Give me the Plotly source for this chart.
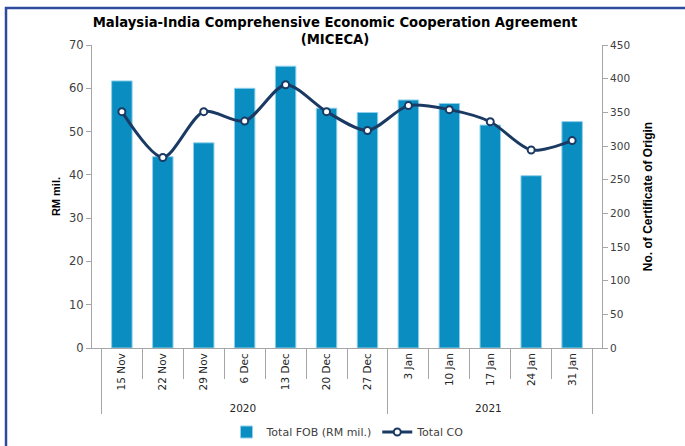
import plotly.graph_objects as go

years = ["2020"] * 7 + ["2021"] * 5
weeks = ["15 Nov", "22 Nov", "29 Nov", "6 Dec", "13 Dec", "20 Dec", "27 Dec",
         "3 Jan", "10 Jan", "17 Jan", "24 Jan", "31 Jan"]
fob = [61.7, 44.2, 47.4, 60.0, 65.1, 55.4, 54.4, 57.3, 56.5, 51.5, 39.8, 52.3]
co = [351, 283, 351, 337, 391, 351, 323, 360, 354, 336, 294, 308]

font_main = "DejaVu Sans, Lato, sans-serif"
axis_col = "#A6A6A6"

W, H = 685, 446
L, R, T, B = 92, 83, 45, 98
PW, PH = W - L - R, H - T - B

fig = go.Figure()
fig.add_trace(go.Bar(
    x=[years, weeks], y=fob, name="Total FOB (RM mil.)",
    marker=dict(color="#0A8DC0", line=dict(color="#8FD0EC", width=1)),
    width=0.5,
))
fig.add_trace(go.Scatter(
    x=[years, weeks], y=co, name="Total CO", yaxis="y2",
    mode="lines+markers",
    line=dict(color="#1B3A63", width=3, shape="spline", smoothing=0.8),
    marker=dict(color="white", size=7, line=dict(color="#1B3A63", width=2)),
))

fig.update_layout(
    width=W, height=H,
    margin=dict(l=L, r=R, t=T, b=B),
    paper_bgcolor="white", plot_bgcolor="white",
    font=dict(family=font_main, size=11, color="#404040"),
    title=dict(
        text="<b>Malaysia-India Comprehensive Economic Cooperation Agreement<br>(MICECA)</b>",
        x=335 / W, xanchor="center", xref="container", y=1 - 27 / H, yanchor="top",
        font=dict(size=13.2, color="#000000", family=font_main),
    ),
    bargap=0.5,
    showlegend=True,
    legend=dict(orientation="h", x=348 / W, xanchor="center", xref="container",
                y=1 - 432 / H, yanchor="middle", yref="container",
                font=dict(size=11, color="#404040"), itemwidth=30),
    xaxis=dict(
        type="multicategory", automargin=False,
        showline=True, linecolor=axis_col, linewidth=1,
        ticks="outside", tickson="boundaries", ticklen=30, tickcolor=axis_col,
        tickangle=-90,
        showdividers=True, dividercolor=axis_col, dividerwidth=1,
        tickfont=dict(size=10.5, color="#262626"),
    ),
    yaxis=dict(
        range=[0, 70], dtick=10, showgrid=False, automargin=False,
        showline=True, linecolor=axis_col, linewidth=1,
        ticks="outside", ticklen=5, tickcolor=axis_col,
        tickfont=dict(size=11.5, color="#404040"),
        title=dict(text="<b>RM mil.</b>", font=dict(size=11, color="#000000",
                   family="Liberation Sans Narrow, Arial Narrow, sans-serif"), standoff=6),
    ),
    yaxis2=dict(
        range=[0, 450], dtick=50, overlaying="y", side="right", showgrid=False,
        automargin=False,
        showline=True, linecolor=axis_col, linewidth=1,
        ticks="outside", ticklen=5, tickcolor=axis_col,
        tickfont=dict(size=10.5, color="#404040"),
        title=dict(text="<b>No. of Certificate of Origin</b>", font=dict(size=12, color="#000000",
                   family="Liberation Sans Narrow, Arial Narrow, sans-serif"), standoff=14),
    ),
    shapes=[dict(type="rect", xref="paper", yref="paper",
                 x0=(6 - L) / PW, x1=(W + 10 - L) / PW,
                 y0=(T + PH - (H + 10)) / PH, y1=(T + PH - 8) / PH,
                 line=dict(color="#2F4BA0", width=2.5), layer="below")],
)

fig.write_html("out.html", config={"displayModeBar": False},
               post_script="document.body.style.margin='0px';")
